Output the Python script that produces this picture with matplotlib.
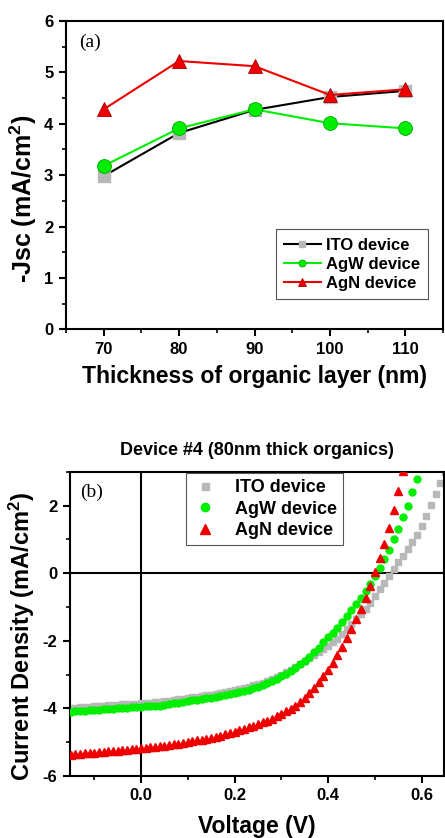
import matplotlib
matplotlib.use("Agg")
import matplotlib.pyplot as plt
from matplotlib.ticker import MultipleLocator, FormatStrFormatter

plt.rcParams['font.family'] = ['Liberation Sans', 'DejaVu Sans']
plt.rcParams['font.weight'] = 'bold'
plt.rcParams['axes.labelweight'] = 'bold'
plt.rcParams['axes.titleweight'] = 'bold'
plt.rcParams['axes.unicode_minus'] = False
plt.rcParams['mathtext.fontset'] = 'custom'
plt.rcParams['mathtext.rm'] = 'Liberation Sans:bold'
plt.rcParams['mathtext.bf'] = 'Liberation Sans:bold'
plt.rcParams['mathtext.default'] = 'bf'

# (a) short-circuit current vs organic layer thickness
thickness = [70, 80, 90, 100, 110]
jsc_ito = [2.98, 3.82, 4.27, 4.52, 4.64]
jsc_agw = [3.18, 3.91, 4.28, 4.01, 3.91]
jsc_agn = [4.28, 5.22, 5.12, 4.56, 4.67]

# (b) J-V curves for device #4
voltage = [-0.15, -0.14, -0.13, -0.12, -0.11, -0.10, -0.09, -0.08, -0.07, -0.06,
           -0.05, -0.04, -0.03, -0.02, -0.01, 0.00, 0.01, 0.02, 0.03, 0.04,
           0.05, 0.06, 0.07, 0.08, 0.09, 0.10, 0.11, 0.12, 0.13, 0.14,
           0.15, 0.16, 0.17, 0.18, 0.19, 0.20, 0.21, 0.22, 0.23, 0.24,
           0.25, 0.26, 0.27, 0.28, 0.29, 0.30, 0.31, 0.32, 0.33, 0.34,
           0.35, 0.36, 0.37, 0.38, 0.39, 0.40, 0.41, 0.42, 0.43, 0.44,
           0.45, 0.46, 0.47, 0.48, 0.49, 0.50, 0.51, 0.52, 0.53, 0.54,
           0.55, 0.56, 0.57, 0.58, 0.59, 0.60, 0.61, 0.62, 0.63, 0.64, 0.65]

j_ito = [-3.99, -3.98, -3.97, -3.96, -3.95, -3.94, -3.93, -3.92, -3.91, -3.90,
         -3.89, -3.88, -3.88, -3.87, -3.86, -3.85, -3.84, -3.83, -3.82, -3.81,
         -3.79, -3.77, -3.75, -3.73, -3.71, -3.69, -3.67, -3.65, -3.63, -3.61,
         -3.59, -3.57, -3.54, -3.52, -3.49, -3.46, -3.43, -3.40, -3.36, -3.32,
         -3.28, -3.24, -3.19, -3.14, -3.07, -3.00, -2.93, -2.85, -2.77, -2.68,
         -2.59, -2.50, -2.42, -2.33, -2.24, -2.15, -2.05, -1.94, -1.81, -1.66,
         -1.51, -1.36, -1.22, -1.06, -0.88, -0.68, -0.48, -0.28, -0.08, 0.12,
         0.32, 0.52, 0.72, 0.92, 1.14, 1.40, 1.70, 2.02, 2.35, 2.68, 3.00]

j_agw = [-4.10, -4.09, -4.08, -4.07, -4.06, -4.05, -4.04, -4.03, -4.02, -4.01,
         -4.00, -3.99, -3.98, -3.97, -3.96, -3.95, -3.94, -3.93, -3.92, -3.94,
         -3.90, -3.87, -3.85, -3.83, -3.80, -3.78, -3.76, -3.74, -3.72, -3.70,
         -3.68, -3.66, -3.63, -3.61, -3.58, -3.55, -3.52, -3.48, -3.45, -3.41,
         -3.36, -3.31, -3.26, -3.19, -3.12, -3.05, -2.97, -2.89, -2.80, -2.70,
         -2.59, -2.47, -2.34, -2.20, -2.05, -1.89, -1.76, -1.62, -1.44, -1.26,
         -1.08, -0.90, -0.72, -0.52, -0.31, -0.09, 0.15, 0.42, 0.70, 1.00,
         1.31, 1.65, 2.00, 2.39, 2.78]

j_agn = [-5.37, -5.36, -5.35, -5.33, -5.32, -5.31, -5.30, -5.28, -5.27, -5.26,
         -5.25, -5.23, -5.22, -5.21, -5.20, -5.18, -5.17, -5.15, -5.14, -5.12,
         -5.10, -5.08, -5.06, -5.04, -5.02, -5.00, -4.97, -4.95, -4.93, -4.90,
         -4.87, -4.84, -4.81, -4.77, -4.73, -4.69, -4.65, -4.61, -4.56, -4.51,
         -4.46, -4.41, -4.36, -4.30, -4.23, -4.16, -4.09, -4.01, -3.92, -3.81,
         -3.69, -3.55, -3.40, -3.23, -3.05, -2.86, -2.65, -2.42, -2.18, -1.92,
         -1.65, -1.36, -1.06, -0.74, -0.38, 0.03, 0.44, 0.86, 1.33, 1.88,
         2.44, 3.02]

labels = ['ITO device', 'AgW device', 'AgN device']
grey = '#b8b8b8'
green = '#00ee00'
red = '#ee0000'

fig = plt.figure(figsize=(4.45, 8.38), dpi=100)
ax1 = fig.add_axes([0.148, 0.607, 0.848, 0.368])
ax2 = fig.add_axes([0.157, 0.074, 0.841, 0.363])


def style_axes(ax):
    for s in ax.spines.values():
        s.set_linewidth(1.5)
    ax.tick_params(which='major', direction='out', length=5, width=1.5, labelsize=12, pad=4)
    ax.tick_params(which='minor', direction='out', length=3, width=1.2)


# ---- top panel ----
ax1.plot(thickness, jsc_ito, color='black', lw=1.5, marker='s', ms=8.5,
         mfc=grey, mec=grey, label=labels[0])
ax1.plot(thickness, jsc_agw, color=green, lw=1.5, marker='o', ms=10,
         mfc=green, mec='#00aa00', mew=0.6, label=labels[1])
ax1.plot(thickness, jsc_agn, color=red, lw=1.5, marker='^', ms=10.5,
         mfc=red, mec='#aa0000', mew=0.6, label=labels[2])
ax1.set_xlim(65, 115)
ax1.set_ylim(0, 6)
ax1.xaxis.set_major_locator(MultipleLocator(10))
ax1.xaxis.set_minor_locator(MultipleLocator(5))
ax1.yaxis.set_major_locator(MultipleLocator(1))
ax1.yaxis.set_minor_locator(MultipleLocator(0.5))
style_axes(ax1)
ax1.set_xlabel('Thickness of organic layer (nm)', fontsize=16.6)
ax1.xaxis.set_label_coords(0.5, -0.115)
ax1.set_ylabel(r'-Jsc (mA/cm$^2$)', fontsize=18)
ax1.yaxis.set_label_coords(-0.072, 0.425)
ax1.text(0.035, 0.93, '(a)', transform=ax1.transAxes, fontsize=14,
         family='Liberation Serif', weight='normal', va='center')
leg1 = ax1.legend(loc='lower right', bbox_to_anchor=(0.960, 0.097), fontsize=12,
                  markerscale=0.5, handlelength=2.2, handletextpad=0.3,
                  labelspacing=0.25, borderpad=0.5, borderaxespad=0,
                  fancybox=False, edgecolor='#555555', framealpha=1)
leg1.get_frame().set_linewidth(0.8)

# ---- bottom panel ----
ax2.axhline(0, color='black', lw=1.5, zorder=1)
ax2.axvline(0, color='black', lw=1.5, zorder=1)
ax2.plot(voltage[:len(j_ito)], j_ito, ls='none', marker='s', ms=4.2,
         mfc=grey, mec=grey, label=labels[0], zorder=2)
ax2.plot(voltage[:len(j_agw)], j_agw, ls='none', marker='o', ms=5,
         mfc=green, mec=green, label=labels[1], zorder=3)
ax2.plot(voltage[:len(j_agn)], j_agn, ls='none', marker='^', ms=5.5,
         mfc=red, mec=red, label=labels[2], zorder=4)
ax2.set_xlim(-0.152, 0.648)
ax2.set_ylim(-6, 3)
ax2.xaxis.set_major_locator(MultipleLocator(0.2))
ax2.xaxis.set_minor_locator(MultipleLocator(0.1))
ax2.xaxis.set_major_formatter(FormatStrFormatter('%.1f'))
ax2.yaxis.set_major_locator(MultipleLocator(2))
ax2.yaxis.set_minor_locator(MultipleLocator(1))
style_axes(ax2)
ax2.set_title('Device #4 (80nm thick organics)', fontsize=13, pad=12)
ax2.set_xlabel('Voltage (V)', fontsize=16.5)
ax2.xaxis.set_label_coords(0.5, -0.128)
ax2.set_ylabel(r'Current Density (mA/cm$^2$)', fontsize=17)
ax2.yaxis.set_label_coords(-0.088, 0.46)
ax2.text(0.027, 0.934, '(b)', transform=ax2.transAxes, fontsize=14,
         family='Liberation Serif', weight='normal', va='center')
leg2 = ax2.legend(loc='upper left', bbox_to_anchor=(0.309, 0.997), fontsize=13,
                  markerscale=1.2, handlelength=1.5, handletextpad=0.9,
                  labelspacing=0.25, borderpad=0.35, borderaxespad=0,
                  fancybox=False, edgecolor='#555555', framealpha=1)
leg2.get_frame().set_linewidth(0.8)

fig.savefig('out.png', dpi=100)
